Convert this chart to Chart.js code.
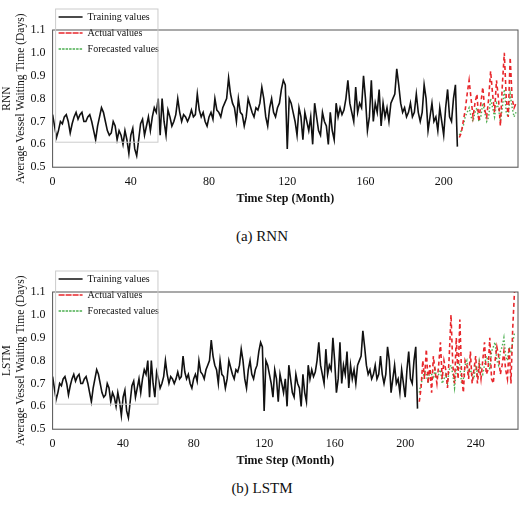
<!DOCTYPE html>
<html><head><meta charset="utf-8">
<script src="https://cdn.jsdelivr.net/npm/chart.js@4/dist/chart.umd.min.js"></script>
<style>
body{margin:0;background:#fff;width:524px;height:519px;font-family:"Liberation Serif",serif;}
.box{position:absolute;left:0;width:524px;}
.cap{position:absolute;left:0;width:524px;text-align:center;font-size:15px;color:#111;}
</style></head><body>
<div class="box" style="top:6px;height:200px"><canvas id="c1"></canvas></div>
<div class="cap" style="top:228px">(a) RNN</div>
<div class="box" style="top:268px;height:200px"><canvas id="c2"></canvas></div>
<div class="cap" style="top:480px">(b) LSTM</div>
<script>
const training = [
.73,.68,.63,.66,.70,.69,.72,.73,.70,.65,.69,.72,.74,.71,.73,.74,.70,.70,.72,.73,
.70,.66,.62,.68,.72,.76,.74,.70,.66,.64,.65,.70,.68,.62,.66,.64,.60,.66,.62,.56,
.64,.67,.58,.55,.62,.69,.71,.64,.68,.72,.66,.72,.76,.74,.80,.64,.80,.70,.64,.75,
.72,.68,.70,.73,.80,.74,.70,.73,.72,.70,.72,.75,.72,.73,.82,.75,.72,.74,.70,.68,
.72,.74,.71,.80,.75,.74,.72,.76,.78,.80,.89,.82,.78,.76,.70,.80,.74,.73,.68,.72,
.80,.77,.74,.72,.76,.75,.78,.85,.80,.72,.68,.76,.80,.74,.72,.76,.78,.84,.88,.86,
.58,.80,.78,.74,.70,.64,.76,.72,.62,.74,.70,.66,.72,.60,.78,.72,.66,.64,.74,.70,
.68,.60,.74,.66,.62,.78,.72,.76,.73,.75,.80,.88,.78,.74,.70,.85,.74,.78,.76,.90,
.80,.66,.72,.88,.70,.78,.74,.84,.68,.78,.72,.76,.70,.78,.80,.82,.93,.86,.78,.74,
.76,.72,.74,.78,.72,.74,.82,.74,.70,.74,.86,.80,.66,.72,.78,.70,.72,.66,.76,.70,
.64,.76,.84,.72,.70,.80,.86,.59];
const rnnActual = [.63,.65,.70,.75,.82,.88,.80,.72,.78,.82,.70,.78,.85,.75,.72,.80,.92,.82,.74,.88,.80,.68,.86,1.0,.80,.72,.98,.80,.76,.78];
const rnnForecast = [.64,.66,.68,.72,.74,.76,.72,.70,.74,.76,.70,.72,.78,.74,.70,.72,.80,.76,.72,.78,.76,.70,.76,.84,.74,.72,.82,.76,.72,.74];
const lstmActual = [.62,.68,.80,.72,.85,.70,.78,.66,.82,.75,.70,.78,.88,.72,.80,.76,.68,.82,1.0,.78,.70,.90,.72,.98,.74,.66,.80,.78,.72,.84,.70,.76,.82,.70,.78,.72,.80,.88,.74,.76,.90,.72,.70,.80,.86,.82,.74,.78,.84,.76,.72,.86,.70,.94,1.10];
const lstmForecast = [.66,.70,.72,.76,.74,.70,.76,.74,.72,.76,.72,.74,.76,.70,.72,.74,.70,.76,.78,.74,.68,.76,.80,.78,.70,.72,.78,.80,.74,.76,.74,.72,.78,.74,.80,.76,.74,.78,.82,.80,.76,.84,.86,.88,.80,.78,.84,.86,.90,.82,.80,.86,.84,.88,.92];
const startForecast = 208;

const frame = {id:"frame", afterDraw(c){
  const a=c.chartArea,g=c.ctx,l=c.legend;g.save();g.strokeStyle="#555";g.lineWidth=1;
  g.strokeRect(a.left,a.top,a.right-a.left,a.bottom-a.top);
  g.strokeStyle="#ccc";g.strokeRect(l.left+3,l.top+3,l.width-14,l.height-4);
  g.restore();}};
const font = {family:"Liberation Serif", size:12};

function build(id, name, actual, forecast, xmax){
  const pts = (arr, off) => arr.map((v,i)=>({x:i+off, y:v}));
  new Chart(document.getElementById(id), {
    type:"line",
    data:{datasets:[
      {label:"Training values", data:pts(training,0), borderColor:"#111", borderWidth:1.6, pointRadius:0, tension:0},
      {label:"Actual values", data:pts(actual,startForecast), borderColor:"#e8262b", borderWidth:1.6, borderDash:[4,3], pointRadius:0},
      {label:"Forecasted values", data:pts(forecast,startForecast), borderColor:"#4caf50", borderWidth:1.4, borderDash:[1.5,2], pointRadius:0}
    ]},
    options:{
      responsive:true, maintainAspectRatio:false, animation:false,
      layout:{padding:{right:6,top:24}},
      plugins:{legend:{position:"chartArea", align:"start",
        labels:{font:{family:"Liberation Serif",size:10}, color:"#111", boxWidth:24, boxHeight:0, padding:6}},
        tooltip:{enabled:false}},
      scales:{
        x:{type:"linear", min:0, max:xmax, grid:{display:false, tickLength:4},
           afterBuildTicks:s=>{s.ticks=s.ticks.filter(t=>t.value%40===0);},
           ticks:{stepSize:40, font, color:"#111"},
           title:{display:true, text:"Time Step (Month)", font:{family:"Liberation Serif",size:12,weight:"bold"}, color:"#111", padding:0}},
        y:{min:0.5, max:1.1, grid:{display:false, tickLength:4},
           ticks:{stepSize:0.1, font, color:"#111", callback:v=>v.toFixed(1)},
           title:{display:true, text:[name,"Average Vessel Waiting Time (Days)"], font:{family:"Liberation Serif",size:11.5}, color:"#111", padding:0}}
      }
    },
    plugins:[frame]
  });
}
build("c1","RNN",rnnActual,rnnForecast,238);
build("c2","LSTM",lstmActual,lstmForecast,264);
</script></body></html>
